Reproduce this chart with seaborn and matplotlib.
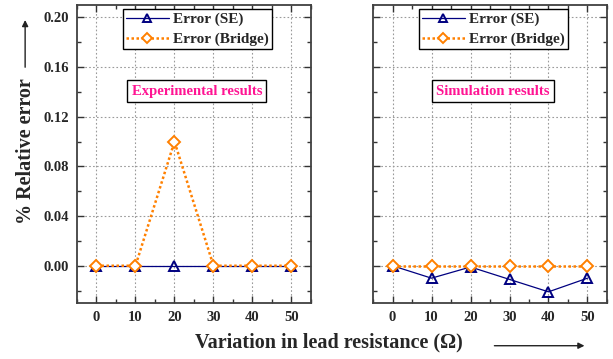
import numpy as np
import pandas as pd
import matplotlib
matplotlib.use("Agg")
import matplotlib.pyplot as plt
import seaborn as sns
from matplotlib.ticker import MultipleLocator

# data
lead_res = [0, 10, 20, 30, 40, 50]
exp_se = [0.0, 0.0, 0.0, 0.0, 0.0, 0.0]
exp_bridge = [0.0, 0.0, 0.10, 0.0, 0.0, 0.0]
sim_se = [0.0, -0.010, -0.001, -0.011, -0.021, -0.010]
sim_bridge = [0.0, 0.0, 0.0, 0.0, 0.0, 0.0]
panel_titles = ["Experimental results", "Simulation results"]

sns.set_theme(style="ticks")
plt.rcParams['font.family'] = ['Liberation Serif', 'DejaVu Serif']
plt.rcParams['font.weight'] = 'bold'
plt.rcParams['axes.labelweight'] = 'bold'

se_color = '#000080'
br_color = '#ff8000'

fig = plt.figure(figsize=(6.13, 3.59), dpi=100)
ax1 = fig.add_axes([0.1256, 0.156, 0.3817, 0.830])
ax2 = fig.add_axes([0.6085, 0.156, 0.3817, 0.830])

panels = [(ax1, exp_se, exp_bridge, panel_titles[0]),
          (ax2, sim_se, sim_bridge, panel_titles[1])]

for ax, se, br, title in panels:
    df = pd.DataFrame({'x': lead_res, 'se': se, 'br': br})
    sns.lineplot(data=df, x='x', y='se', ax=ax, color=se_color, lw=0.9,
                 marker='^', ms=7, mfc='none', mec=se_color, mew=1.4,
                 label='Error (SE)', zorder=3)
    sns.lineplot(data=df, x='x', y='br', ax=ax, color=br_color, lw=1.8,
                 linestyle=(0, (1, 1)), marker='D', ms=6.5, mfc='white',
                 mec=br_color, mew=1.4, label='Error (Bridge)', zorder=4)
    ax.set_xlim(-5, 55)
    ax.set_ylim(-0.03, 0.21)
    ax.xaxis.set_major_locator(MultipleLocator(10))
    ax.xaxis.set_minor_locator(MultipleLocator(5))
    ax.yaxis.set_major_locator(MultipleLocator(0.04))
    ax.yaxis.set_minor_locator(MultipleLocator(0.02))
    ax.yaxis.set_major_formatter(matplotlib.ticker.FormatStrFormatter('%.2f'))
    ax.grid(True, which='major', color='#9a9a9a', linestyle=(0, (1.5, 2)), lw=0.8)
    ax.tick_params(which='both', direction='in', top=True, right=True,
                   labelsize=10.5, color='#333333', pad=6)
    ax.tick_params(which='major', length=5, width=1)
    ax.tick_params(which='minor', length=3, width=1)
    for lab in ax.get_xticklabels() + ax.get_yticklabels():
        lab.set_fontweight('bold')
    for sp in ax.spines.values():
        sp.set_color('#404040')
        sp.set_linewidth(1.3)
    ax.set_xlabel('')
    ax.set_ylabel('')
    leg = ax.legend(loc='upper center', bbox_to_anchor=(0.515, 0.985),
                    prop={'family': 'Liberation Serif', 'weight': 'bold', 'size': 11},
                    frameon=True, fancybox=False, markerscale=0.8,
                    edgecolor='black', framealpha=1, handlelength=2.8,
                    handletextpad=0.3, borderpad=0.2, borderaxespad=0,
                    labelspacing=0.4)
    leg.get_frame().set_linewidth(1.0)
    ax.text(0.512, 0.711, title, transform=ax.transAxes, ha='center',
            va='center', fontsize=10.5, fontweight='bold', color='#ff1493',
            bbox=dict(boxstyle='square,pad=0.3', fc='white', ec='black', lw=1.0),
            zorder=6)

ax2.tick_params(labelleft=False)

# axis titles with arrows
fig.text(0.043, 0.579, '% Relative error', rotation=90, ha='center',
         va='center', fontsize=14.5, fontweight='bold')
fig.patches.append(matplotlib.patches.FancyArrowPatch(
    (0.041, 0.805), (0.041, 0.952), transform=fig.transFigure,
    arrowstyle='-|>', mutation_scale=9, lw=1.0, color='#222222'))
fig.text(0.537, 0.045, 'Variation in lead resistance (Ω)', ha='center',
         va='center', fontsize=14.5, fontweight='bold')
fig.patches.append(matplotlib.patches.FancyArrowPatch(
    (0.802, 0.037), (0.958, 0.037), transform=fig.transFigure,
    arrowstyle='-|>', mutation_scale=9, lw=1.0, color='#222222'))

fig.savefig('out.png', dpi=100)
